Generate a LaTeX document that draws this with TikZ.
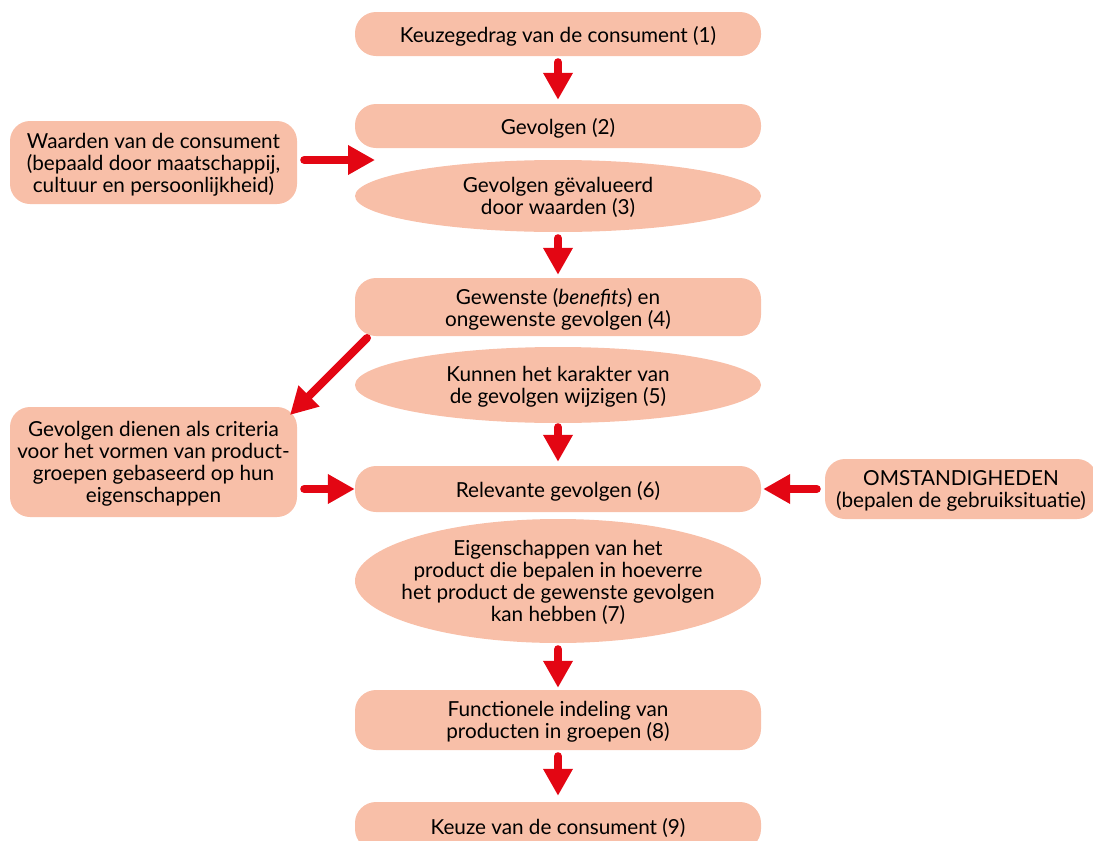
\documentclass[tikz,border=0pt]{standalone}
\usepackage{fontspec}
\setmainfont{Lato}
\usetikzlibrary{arrows.meta,shapes.geometric}
\definecolor{boxfill}{HTML}{F8BFA8}
\definecolor{arrowred}{HTML}{E30613}
\tikzset{
  lbl/.style={font=\fontsize{20.7}{22}\selectfont, align=center, text=black, inner sep=0pt, text depth=0pt},
  pill/.style={lbl, fill=boxfill, rounded corners=21pt, minimum width=406pt},
  sidebox/.style={lbl, fill=boxfill, rounded corners=20pt},
  % the oval keeps its own size; its text is set as a centred label
  oval/.style={ellipse, fill=boxfill, inner sep=0pt, minimum width=406pt,
    label={[lbl]center:#1}},
  arr/.style={draw=arrowred, line width=8pt, line cap=round,
    -{Triangle[length=27pt,width=28pt]}},
}
\begin{document}
\begin{tikzpicture}[x=1pt,y=-1pt]
\useasboundingbox (0,0) rectangle (1093,841);
\clip (0,0) rectangle (1093,841);
% main column
\node[pill, minimum height=44pt] (b1) at (558,34) {Keuzegedrag van de consument (1)};
\node[pill, minimum height=44pt] (b2) at (558,126) {Gevolgen (2)};
\node[oval={Gevolgen gëvalueerd\\door waarden (3)}, minimum height=72pt] (e3) at (558,196) {};
\node[pill, minimum height=58pt] (b4) at (558,307) {Gewenste (\textit{benefits}) en\\ongewenste gevolgen (4)};
\node[oval={Kunnen het karakter van\\de gevolgen wijzigen (5)}, minimum height=76pt] (e5) at (558,385) {};
\node[pill, minimum height=46pt] (b6) at (558,489) {Relevante gevolgen (6)};
\node[oval={Eigenschappen van het\\product die bepalen in hoeverre\\het product de gewenste gevolgen\\kan hebben (7)}, minimum height=124pt] (e7) at (558,581) {};
\node[pill, minimum height=60pt] (b8) at (558,720) {Functionele indeling van\\producten in groepen (8)};
\node[pill, minimum height=48pt] (b9) at (558,826) {Keuze van de consument (9)};
% side boxes
\node[sidebox, minimum width=287pt, minimum height=83pt] (w) at (153.5,162.5) {Waarden van de consument\\(bepaald door maatschappij,\\cultuur en persoonlijkheid)};
\node[sidebox, minimum width=287pt, minimum height=110pt] (g) at (153.5,462) {Gevolgen dienen als criteria\\voor het vormen van product-\\groepen gebaseerd op hun\\eigenschappen};
\node[sidebox, minimum width=272pt, minimum height=60pt] (o) at (961,489) {OMSTANDIGHEDEN\\(bepalen de gebruiksituatie)};
% connector end points
\coordinate (wtip) at (375,160);
\coordinate (dstart) at (367,338);
\coordinate (dtip) at (290,415);
% connectors
\draw[arr, shorten <=6pt, shorten >=4pt] (b1.south) -- (b2.north);
\draw[arr, shorten <=6pt, shorten >=3pt] (e3.south) -- (b4.north);
\draw[arr, shorten <=4pt, shorten >=4pt] (e5.south) -- (b6.north);
\draw[arr, shorten <=6pt, shorten >=2pt] (e7.south) -- (b8.north);
\draw[arr, shorten <=6pt, shorten >=6pt] (b8.south) -- (b9.north);
\draw[arr, shorten <=7pt] (w.east |- wtip) -- (wtip);
\draw[arr, shorten <=7pt, shorten >=0pt] (g.east |- b6.west) -- (b6.west);
\draw[arr, shorten <=8pt, shorten >=2pt] (o.west) -- (b6.east);
\draw[arr] (dstart) -- (dtip);
\end{tikzpicture}
\end{document}
